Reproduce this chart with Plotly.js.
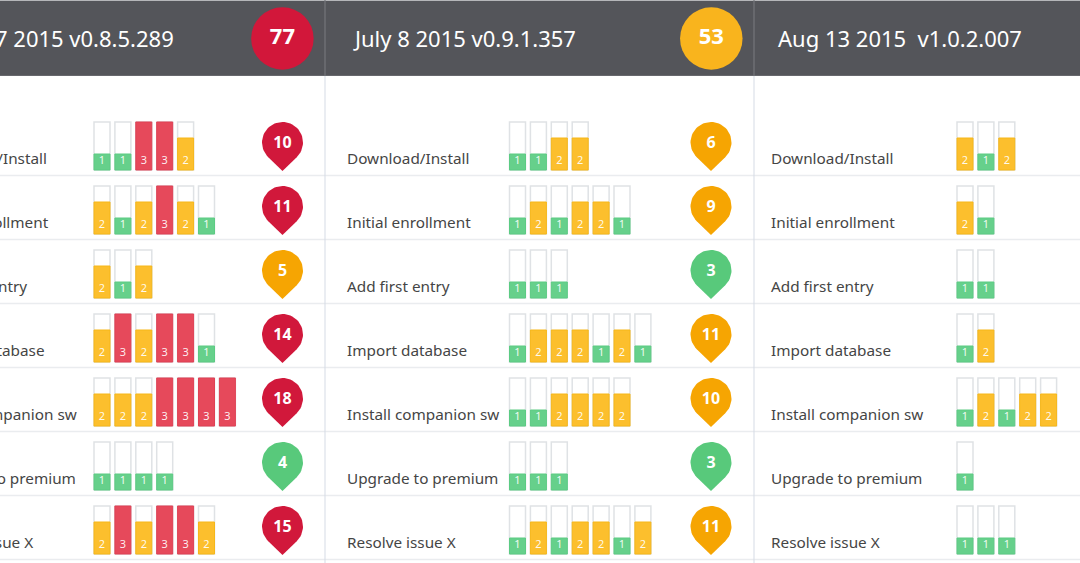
<!DOCTYPE html>
<html><head><meta charset="utf-8">
<script src="https://cdn.plot.ly/plotly-3.0.1.min.js"></script>
<style>html,body{margin:0;padding:0;background:#fff;overflow:hidden}#chart{width:1080px;height:563px}</style>
</head><body><div id="chart"></div>
<script>
// ---------------- data ----------------
const steps = ["Download/Install","Initial enrollment","Add first entry","Import database","Install companion sw","Upgrade to premium","Resolve issue X"];
const releases = ["7 2015 v0.8.5.289","July 8 2015 v0.9.1.357","Aug 13 2015  v1.0.2.007"];
const releaseTotals = [77, 53, null];
const rel1Scores = [[1,1,3,3,2],[2,1,2,3,2,1],[2,1,2],[2,3,2,3,3,1],[2,2,2,3,3,3,3],[1,1,1,1],[2,3,2,3,3,2]];
const rel1Totals = [10,11,5,14,18,4,15];
const rel2Scores = [[1,1,2,2],[1,2,1,2,2,1],[1,1,1],[1,2,2,2,1,2,1],[1,1,2,2,2,2],[1,1,1],[1,2,1,2,2,1,2]];
const rel2Totals = [6,9,3,11,10,3,11];
const rel3Scores = [[2,1,2],[2,1],[1,1],[1,2],[1,2,1,2,2],[1],[1,1,1]];
const rel3Totals = [null,null,null,null,null,null,null];

// ---------------- layout constants ----------------
const scores = [rel1Scores, rel2Scores, rel3Scores];
const totals = [rel1Totals, rel2Totals, rel3Totals];
const PANEL = [
  {label:-75.5, bar:102, pin:282.5, head:-5,  badge:282.4},
  {label:347, bar:517.5, pin:711, head:355, badge:711.3},
  {label:771, bar:965, pin:null, head:778, badge:null}
];
const PITCH = 20.9, BARW = 16, ROWSTEP = 4, FULL = 3;
const Y0PX = 170, UNITPX = 16;
const py = p => (Y0PX - p) / UNITPX;   // pixel row -> axis units

const barFill = {1:'#66d08b', 2:'#fcbf2d', 3:'#e6495b'};
const barEdge = {1:'#5ccb83', 2:'#f6b719', 3:'#df4154'};
const pinCol  = {1:'#58c97b', 2:'#f6a502', 3:'#d1183b'};
const badgeCol= {1:'#58c97b', 2:'#f9b41d', 3:'#d2173a'};
const FONT = 'Noto Sans, Open Sans, sans-serif';

const traces = [];
// bar slots
const sx=[], sb=[], fx=[], fy=[], fb=[], fc=[], fe=[], tx=[], ty=[], tt=[];
scores.forEach((rel, p) => {
  rel.forEach((row, r) => {
    row.forEach((v, i) => {
      const x = PANEL[p].bar + PITCH * i;
      const base = -ROWSTEP * r;
      sx.push(x); sb.push(base);
      fx.push(x); fy.push(v); fb.push(base); fc.push(barFill[v]); fe.push(barEdge[v]);
      tx.push(x); ty.push(base + py(161)); tt.push(String(v));
    });
  });
});
traces.push({type:'bar', x:sx, y:sx.map(()=>FULL), base:sb, width:BARW,
  marker:{color:'#ffffff', line:{color:'#dfe2e5', width:1.5}}, hoverinfo:'skip'});
traces.push({type:'bar', x:fx, y:fy, base:fb, width:BARW,
  marker:{color:fc, line:{color:fe, width:1}}, hoverinfo:'skip'});
traces.push({type:'scatter', mode:'text', x:tx, y:ty, text:tt, textposition:'middle center',
  textfont:{family:FONT, size:11, color:'rgba(255,255,255,0.92)'}, hoverinfo:'skip'});

// row labels
const lx=[], ly=[], lt=[];
PANEL.forEach((pn, p) => steps.forEach((s, r) => { lx.push(pn.label); ly.push(py(160.5) - ROWSTEP*r); lt.push(s); }));
traces.push({type:'scatter', mode:'text', x:lx, y:ly, text:lt, textposition:'middle right',
  textfont:{family:FONT, size:15.3, color:'#454545'}, hoverinfo:'skip', cliponaxis:true});

// pins
const R = 20.5, TIP = 28.5, CY = 142.5;
const phi0 = Math.acos(R / TIP);
const pnx=[], pny=[], pnt=[];
PANEL.forEach((pn, p) => {
  if (pn.pin === null) return;
  totals[p].forEach((t, r) => {
    if (t === null) return;
    const sev = Math.max(...scores[p][r]);
    const xs=[], ys=[];
    const N = 48;
    for (let k = 0; k <= N; k++) {
      const a = phi0 + (2*Math.PI - 2*phi0) * k / N;
      xs.push(pn.pin + R*Math.sin(a));
      ys.push(py(CY + R*Math.cos(a)) - ROWSTEP*r);
    }
    xs.push(pn.pin); ys.push(py(CY + TIP) - ROWSTEP*r);
    traces.push({type:'scatter', mode:'lines', x:xs, y:ys, fill:'toself', fillcolor:pinCol[sev],
      line:{width:0, color:pinCol[sev]}, hoverinfo:'skip'});
    pnx.push(pn.pin); pny.push(py(CY+1) - ROWSTEP*r); pnt.push(String(t));
  });
});
traces.push({type:'scatter', mode:'text', x:pnx, y:pny, text:pnt, textposition:'middle center',
  textfont:{family:FONT, size:16, color:'#ffffff', weight:700}, hoverinfo:'skip'});

// header badges
const bx=[], by=[], bt=[], bc=[];
PANEL.forEach((pn, p) => {
  if (pn.badge === null || releaseTotals[p] === null) return;
  const sev = Math.max(...scores[p].flat());
  bx.push(pn.badge); by.push(py(38.5)); bt.push(String(releaseTotals[p])); bc.push(badgeCol[sev]);
});
traces.push({type:'scatter', mode:'markers+text', x:bx, y:by, text:bt, textposition:'middle center',
  marker:{size:62.5, color:bc, line:{width:0}},
  textfont:{family:FONT, size:22, color:'#ffffff', weight:700}, hoverinfo:'skip'});

// header titles
traces.push({type:'scatter', mode:'text', x:PANEL.map(p=>p.head), y:PANEL.map(()=>py(41.5)), text:releases,
  textposition:'middle right', textfont:{family:FONT, size:22, color:'#ffffff'}, hoverinfo:'skip'});

// ---------------- layout ----------------
const shapes = [];
shapes.push({type:'rect', xref:'paper', yref:'paper', x0:0, x1:1, y0:1-76/563, y1:1-1/563, fillcolor:'#54555a', line:{width:0}, layer:'below'});
shapes.push({type:'line', xref:'paper', yref:'paper', x0:0, x1:1, y0:1-0.5/563, y1:1-0.5/563, line:{color:'#b5b6b9', width:1}, layer:'below'});
shapes.push({type:'line', xref:'paper', yref:'paper', x0:0, x1:1, y0:1-75.5/563, y1:1-75.5/563, line:{color:'#67686d', width:1}, layer:'below'});
for (let k = 0; k < 7; k++) {
  const y = py(175.5) - ROWSTEP*k;
  shapes.push({type:'line', xref:'paper', yref:'y', x0:0, x1:1, y0:y, y1:y, line:{color:'#eaecef', width:1.5}, layer:'below'});
}
[325, 754].forEach(x => {
  shapes.push({type:'line', xref:'x', yref:'paper', x0:x, x1:x, y0:0, y1:1-76/563, line:{color:'#d5dbe5', width:1}, layer:'below'});
  shapes.push({type:'line', xref:'x', yref:'paper', x0:x, x1:x, y0:1-76/563, y1:1, line:{color:'#75767b', width:1.2}, layer:'below'});
});

const layout = {
  width:1080, height:563, autosize:false,
  margin:{l:0, r:0, t:0, b:0, pad:0},
  paper_bgcolor:'#ffffff', plot_bgcolor:'rgba(0,0,0,0)',
  showlegend:false, hovermode:false, barmode:'overlay', bargap:0,
  xaxis:{range:[0,1080], visible:false, fixedrange:true},
  yaxis:{range:[py(563), py(0)], visible:false, fixedrange:true},
  shapes:shapes
};
Plotly.newPlot('chart', traces, layout, {staticPlot:true, displayModeBar:false});
</script>
</body></html>
